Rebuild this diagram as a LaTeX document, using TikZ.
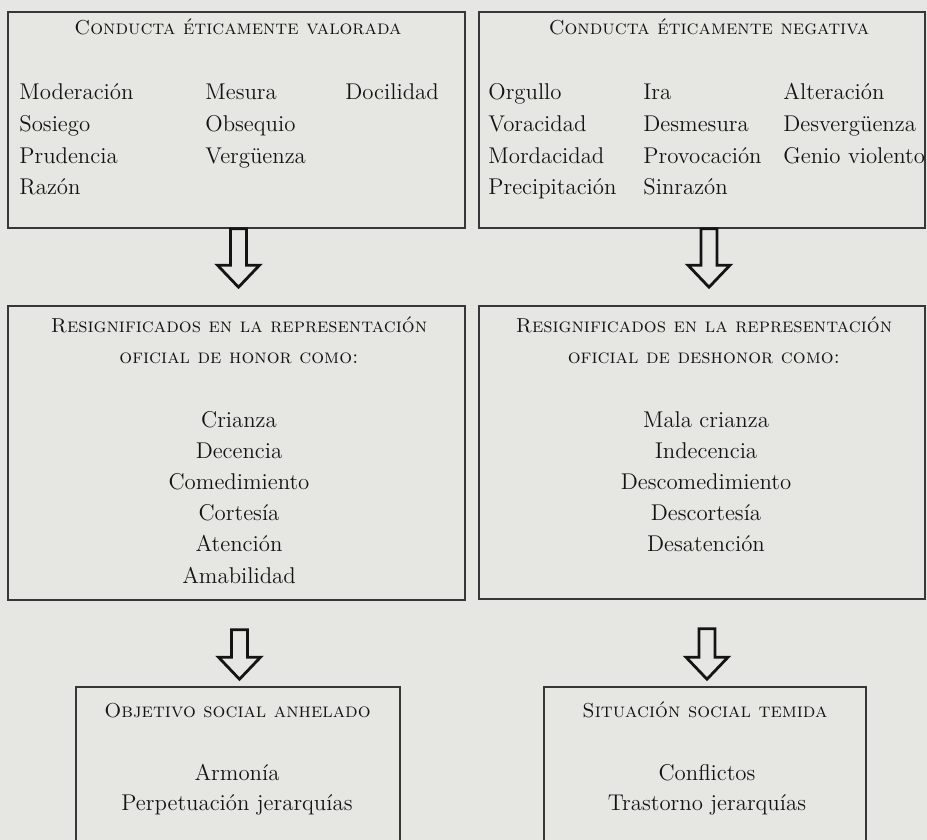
\documentclass[tikz,border=0pt]{standalone}
\usepackage{tikz}
\usetikzlibrary{calc}

\definecolor{paper}{RGB}{230,230,226}
\definecolor{ink}{RGB}{20,20,20}
\definecolor{boxline}{RGB}{55,55,55}

\tikzset{
  box/.style={draw=boxline, line width=0.8pt, fill=paper, inner sep=0pt},
  heading/.style={font=\fontsize{10.1}{15.6}\selectfont\scshape, text=ink, anchor=base},
  words/.style={font=\fontsize{11.4}{15.6}\selectfont, text=ink, anchor=base west, inner sep=0pt},
  terms/.style={font=\fontsize{11.4}{15.6}\selectfont, text=ink, anchor=base},
  blockarrow/.style={draw=ink, line width=1.4pt, fill=paper, line join=miter,
    to path={let \p1=(\tikztostart), \p2=(\tikztotarget) in
      (\x1-4pt,\y1) -- (\x1-4pt,\y2+11pt) -- (\x1-10.5pt,\y2+11pt) -- (\x1,\y2)
      -- (\x1+10.5pt,\y2+11pt) -- (\x1+4pt,\y2+11pt) -- (\x1+4pt,\y1) -- cycle}}
}

\begin{document}
\begin{tikzpicture}[x=0.5pt, y=-0.5pt]

% page and background
\clip (0,0) rectangle (927,840);
\fill[paper] (0,0) rectangle (927,840);

% draw boxes
\node[box, minimum width=228.5pt, minimum height=108pt] (valor) at (236.5,120) {};
\node[box, minimum width=223pt, minimum height=108pt] (negat) at (702,120) {};
\node[box, minimum width=228.5pt, minimum height=147pt] (honor) at (236.5,453) {};
\node[box, minimum width=223pt, minimum height=146.5pt] (deshonor) at (702,452.5) {};
\node[box, minimum width=162pt, minimum height=100pt] (anhelo) at (238,787) {};
\node[box, minimum width=161pt, minimum height=100pt] (temor) at (705,787) {};

% draw headings
\node[heading] (hvalor) at (238,35) {Conducta éticamente valorada};
\node[heading] (hnegat) at (709,35) {Conducta éticamente negativa};
\node[heading] (hhonor1) at (239,332) {Resignificados en la representación};
\node[heading] (hhonor2) at (239,363) {oficial de honor como:};
\node[heading] (hdeshonor1) at (704,332) {Resignificados en la representación};
\node[heading] (hdeshonor2) at (704,363) {oficial de deshonor como:};
\node[heading] (hanhelo) at (237.5,717) {Objetivo social anhelado};
\node[heading] (htemor) at (705,717) {Situación social temida};

% draw word columns of the top boxes
\foreach \w [count=\i] in {Moderación, Sosiego, Prudencia, Razón}
  \node[words] (va\i) at (19,{100+31.5*(\i-1)}) {\w};
\foreach \w [count=\i] in {Mesura, Obsequio, Vergüenza}
  \node[words] (vb\i) at (205,{100+31.5*(\i-1)}) {\w};
\node[words] (vc1) at (345,100) {Docilidad};

\foreach \w [count=\i] in {Orgullo, Voracidad, Mordacidad, Precipitación}
  \node[words] (na\i) at (488,{100+31.5*(\i-1)}) {\w};
\foreach \w [count=\i] in {Ira, Desmesura, Provocación, Sinrazón}
  \node[words] (nb\i) at (643,{100+31.5*(\i-1)}) {\w};
\foreach \w [count=\i] in {Alteración, Desvergüenza, Genio violento}
  \node[words] (nc\i) at (783,{100+31.5*(\i-1)}) {\w};

% draw centred terms
\foreach \w [count=\i] in {Crianza, Decencia, Comedimiento, Cortesía, Atención, Amabilidad}
  \node[terms] (ho\i) at (239,{427+31.2*(\i-1)}) {\w};
\foreach \w [count=\i] in {Mala crianza, Indecencia, Descomedimiento, Descortesía, Desatención}
  \node[terms] (de\i) at (706,{427+31.2*(\i-1)}) {\w};
\node[terms] (an1) at (237,780) {Armonía};
\node[terms] (an2) at (237,810) {Perpetuación jerarquías};
\node[terms] (te1) at (707,780) {Conflictos};
\node[terms] (te2) at (707,810) {Trastorno jerarquías};

% draw hollow arrows
\draw[blockarrow] ([xshift=1pt]valor.south) to ([xshift=1pt,yshift=9pt]honor.north);
\draw[blockarrow] ([xshift=3.5pt]negat.south) to ([xshift=3.5pt,yshift=9pt]deshonor.north);
\draw[blockarrow] ([xshift=1.5pt,yshift=-14.5pt]honor.south) to ([xshift=1.5pt,yshift=3.5pt]honor.south |- anhelo.north);
\draw[blockarrow] ([xshift=2.5pt,yshift=-14.5pt]deshonor.south) to ([xshift=2.5pt,yshift=3.5pt]deshonor.south |- temor.north);

\end{tikzpicture}
\end{document}
